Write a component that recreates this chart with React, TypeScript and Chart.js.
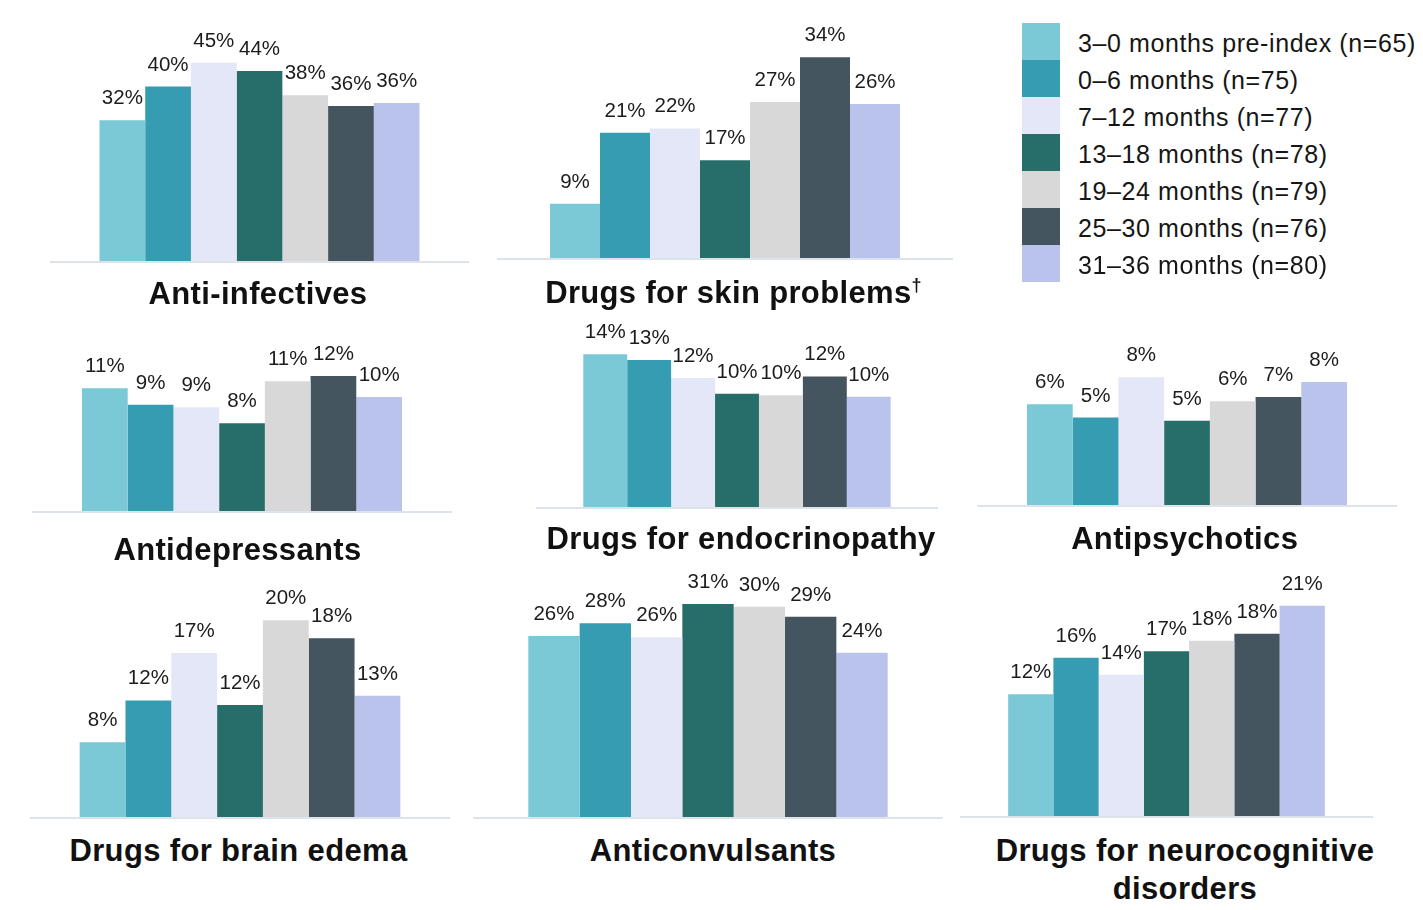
import React, { useEffect, useRef } from "react";
import { Chart, registerables } from "chart.js";

Chart.register(...registerables);

// ---------- data ----------
const periods = [
  "3–0 months pre-index (n=65)",
  "0–6 months (n=75)",
  "7–12 months (n=77)",
  "13–18 months (n=78)",
  "19–24 months (n=79)",
  "25–30 months (n=76)",
  "31–36 months (n=80)",
];

const periodColors = ["#7bc8d7", "#369cb2", "#e4e7f7", "#276e6a", "#d8d8d8", "#455560", "#bac3ec"];

const antiInfectives = [32.3, 40.0, 45.45, 43.6, 38.0, 35.53, 36.25];
const skinProblems = [9.23, 21.33, 22.08, 16.67, 26.58, 34.21, 26.25];
const antidepressants = [10.77, 9.33, 9.09, 7.69, 11.39, 11.84, 10.0];
const endocrinopathy = [13.85, 13.33, 11.69, 10.26, 10.13, 11.84, 10.0];
const antipsychotics = [6.15, 5.33, 7.79, 5.13, 6.33, 6.58, 7.5];
const brainEdema = [7.69, 12.0, 16.88, 11.54, 20.25, 18.42, 12.5];
const anticonvulsants = [26.15, 28.0, 25.97, 30.77, 30.38, 28.95, 23.75];
const neurocognitive = [12.31, 16.0, 14.29, 16.67, 17.72, 18.42, 21.25];

const panelTitles = [
  ["Anti-infectives"],
  ["Drugs for skin problems†"],
  ["Antidepressants"],
  ["Drugs for endocrinopathy"],
  ["Antipsychotics"],
  ["Drugs for brain edema"],
  ["Anticonvulsants"],
  ["Drugs for neurocognitive", "disorders"],
];

const panelValues = [
  antiInfectives,
  skinProblems,
  antidepressants,
  endocrinopathy,
  antipsychotics,
  brainEdema,
  anticonvulsants,
  neurocognitive,
];

// ---------- layout (pixels) ----------
type Layout = {
  left: number;
  right: number;
  top: number;
  baseline: number;
  pxPerPct: number;
  barSpan: number;
  titleX: number;
  titleBaseline: number;
};

const layouts: Layout[] = [
  { left: 50, right: 469, top: 0, baseline: 260.5, pxPerPct: 4.36, barSpan: 320, titleX: 258, titleBaseline: 305 },
  { left: 497, right: 953, top: 0, baseline: 258, pxPerPct: 5.87, barSpan: 350, titleX: 733.5, titleBaseline: 304 },
  { left: 32, right: 452, top: 310, baseline: 511, pxPerPct: 11.4, barSpan: 320, titleX: 237.5, titleBaseline: 560.5 },
  { left: 536, right: 938, top: 310, baseline: 506.5, pxPerPct: 11.03, barSpan: 307.4, titleX: 741, titleBaseline: 550 },
  { left: 977, right: 1397, top: 310, baseline: 504.5, pxPerPct: 16.4, barSpan: 320, titleX: 1184.7, titleBaseline: 550 },
  { left: 30, right: 450, top: 560, baseline: 817, pxPerPct: 9.71, barSpan: 320.7, titleX: 238.5, titleBaseline: 861.7 },
  { left: 473, right: 943, top: 560, baseline: 817, pxPerPct: 6.92, barSpan: 359.4, titleX: 713, titleBaseline: 861.7 },
  { left: 960, right: 1373, top: 560, baseline: 815.5, pxPerPct: 9.89, barSpan: 316.7, titleX: 1185, titleBaseline: 861.7 },
];

const FONT = '"Liberation Sans", Arial, Helvetica, sans-serif';

const baselinePlugin = {
  id: "baselineRule",
  afterDatasetsDraw(chart: any) {
    const { ctx, chartArea } = chart;
    ctx.save();
    ctx.fillStyle = "#dde3ea";
    ctx.fillRect(chartArea.left, chartArea.bottom, chartArea.right - chartArea.left, 2);
    ctx.restore();
  },
};

const valueLabelPlugin = {
  id: "valueLabels",
  afterDatasetsDraw(chart: any) {
    const { ctx } = chart;
    ctx.save();
    ctx.font = `20.5px ${FONT}`;
    ctx.fillStyle = "#1c1c1c";
    ctx.textAlign = "center";
    ctx.textBaseline = "alphabetic";
    chart.data.datasets.forEach((ds: any, i: number) => {
      const meta = chart.getDatasetMeta(i);
      meta.data.forEach((el: any, j: number) => {
        const v = ds.data[j] as number;
        ctx.fillText(`${Math.round(v)}%`, el.x, el.y - 16);
      });
    });
    ctx.restore();
  },
};

function Panel({ values, layout }: { values: number[]; layout: Layout }) {
  const ref = useRef<HTMLCanvasElement | null>(null);
  const width = layout.right - layout.left;
  const height = Math.round(layout.baseline - layout.top + 3);

  useEffect(() => {
    if (!ref.current) return;
    const areaHeight = height - 3;
    const chart = new Chart(ref.current, {
      type: "bar",
      data: {
        labels: [""],
        datasets: periods.map((p, i) => ({
          label: p,
          data: [values[i]],
          backgroundColor: periodColors[i],
          borderWidth: 0,
          barPercentage: 1,
          categoryPercentage: layout.barSpan / width,
        })),
      },
      options: {
        responsive: false,
        animation: false,
        devicePixelRatio: 1,
        layout: { padding: { top: 0, left: 0, right: 0, bottom: 3 } },
        scales: {
          x: { display: false },
          y: { display: false, min: 0, max: areaHeight / layout.pxPerPct },
        },
        plugins: {
          legend: { display: false },
          tooltip: { enabled: false },
          title: { display: false },
        },
      },
      plugins: [baselinePlugin, valueLabelPlugin],
    } as any);
    return () => chart.destroy();
  }, []);

  return (
    <canvas
      ref={ref}
      width={width}
      height={height}
      style={{
        position: "absolute",
        left: layout.left,
        top: Math.round(layout.baseline) + 3 - height,
        width,
        height,
      }}
    />
  );
}

function Title({ lines, layout }: { lines: string[]; layout: Layout }) {
  const fs = 31;
  const lh = 38;
  const baselineOffset = (lh - fs * 1.117) / 2 + fs * 0.905;
  return (
    <div
      style={{
        position: "absolute",
        left: layout.titleX - 300,
        width: 600,
        top: layout.titleBaseline - baselineOffset,
        textAlign: "center",
        fontFamily: FONT,
        fontWeight: "bold",
        fontSize: fs,
        lineHeight: `${lh}px`,
        letterSpacing: "0.35px",
        color: "#111111",
        whiteSpace: "nowrap",
      }}
    >
      {lines.map((line, i) => {
        const hasDagger = line.endsWith("†");
        const text = hasDagger ? line.slice(0, -1) : line;
        return (
          <div key={i}>
            {text}
            {hasDagger ? (
              <span style={{ fontSize: 18, position: "relative", top: -12, verticalAlign: "baseline" }}>†</span>
            ) : null}
          </div>
        );
      })}
    </div>
  );
}

function Legend() {
  const boxLeft = 1022;
  const boxWidth = 38;
  const top = 23.3;
  const rowH = 36.9;
  return (
    <div>
      {periods.map((p, i) => (
        <React.Fragment key={p}>
          <div
            style={{
              position: "absolute",
              left: boxLeft,
              top: top + i * rowH,
              width: boxWidth,
              height: rowH + 0.5,
              background: periodColors[i],
            }}
          />
          <div
            style={{
              position: "absolute",
              left: 1078,
              top: top + i * rowH + 2,
              height: rowH,
              lineHeight: `${rowH}px`,
              fontFamily: FONT,
              fontSize: 25,
              letterSpacing: "0.6px",
              color: "#161616",
              whiteSpace: "nowrap",
            }}
          >
            {p}
          </div>
        </React.Fragment>
      ))}
    </div>
  );
}

export default function App() {
  return (
    <div
      style={{
        position: "absolute",
        left: 0,
        top: 0,
        width: 1423,
        height: 910,
        background: "#ffffff",
        overflow: "hidden",
      }}
    >
      {panelValues.map((vals, i) => (
        <Panel key={i} values={vals} layout={layouts[i]} />
      ))}
      {panelTitles.map((lines, i) => (
        <Title key={i} lines={lines} layout={layouts[i]} />
      ))}
      <Legend />
    </div>
  );
}
